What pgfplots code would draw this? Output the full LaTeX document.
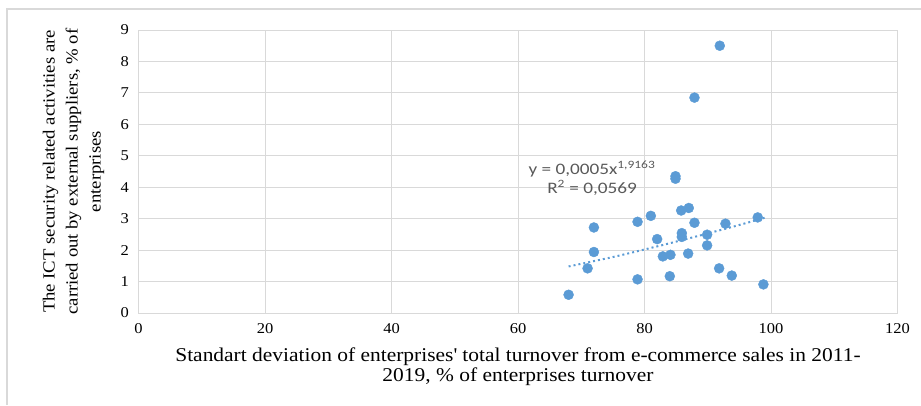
\documentclass[border=0pt]{standalone}
\usepackage{pgfplots}
\pgfplotsset{compat=1.18}
\usepackage{fontspec}
\setmainfont[FakeStretch=1.1]{Liberation Serif}
\newfontfamily\calib[FakeStretch=1.2]{Carlito}
\definecolor{dotblue}{HTML}{5B9BD5}
\definecolor{gridgray}{HTML}{D9D9D9}
\definecolor{eqgray}{HTML}{595959}
\begin{document}
\begin{tikzpicture}
\useasboundingbox (0pt,0pt) rectangle (921pt,405pt);
\draw[gridgray,line width=1.2pt] (7pt,0pt) -- (7pt,396pt) -- (921pt,396pt);
\begin{axis}[
  at={(138.5pt,92pt)}, anchor=south west,
  scale only axis, width=759pt, height=283pt,
  xmin=0, xmax=120, ymin=0, ymax=9,
  xtick={0,20,...,120}, ytick={0,1,...,9},
  grid=major,
  grid style={gridgray, line width=1pt},
  axis line style={gridgray, line width=1pt},
  major tick length=0pt,
  tick label style={font=\fontsize{15}{18}\selectfont},
  xticklabel style={yshift=-7pt},
  yticklabel style={xshift=-6pt},
  /pgf/number format/assume math mode=true,
  xlabel={Standart deviation of enterprises\textquotesingle\ total turnover from e-commerce sales in 2011-\\2019, \% of enterprises\ turnover},
  xlabel style={font=\fontsize{19.5}{20}\selectfont, align=center, at={(axis description cs:0.5,0)}, anchor=north, yshift=-31pt},
  ylabel={The ICT security related activities are\\carried out by external suppliers, \% of\\enterprises},
  ylabel style={font=\fontsize{17}{23}\selectfont, align=center, at={(axis description cs:0,0.5)}, anchor=center, yshift=65pt},
  clip=false,
]
\addplot[only marks, mark=*, mark size=5pt, color=dotblue, mark options={fill=dotblue, draw=dotblue}] coordinates {
(91.9,8.50) (87.9,6.85) (84.9,4.35) (84.9,4.27) (85.8,3.26) (87.0,3.34)
(81.0,3.09) (78.9,2.90) (87.9,2.87) (92.8,2.84) (97.9,3.04) (72.0,2.72)
(82.0,2.35) (85.9,2.54) (85.9,2.42) (89.9,2.49) (89.9,2.15) (72.0,1.94)
(82.9,1.80) (84.1,1.85) (86.9,1.89) (71.0,1.42) (91.8,1.42) (93.8,1.19)
(78.9,1.07) (84.0,1.17) (98.8,0.91) (68.0,0.58)
};
\addplot[color=dotblue, line width=2pt, dash pattern=on 2pt off 3pt, smooth] coordinates {
(68,1.48) (75,1.78) (80,2.02) (85,2.27) (90,2.53) (95,2.80) (99,3.03)
};
\node[font=\calib\fontsize{16}{19}\selectfont, text=eqgray, align=center] at (axis cs:71.7,4.29) {y = 0,0005x\textsuperscript{1,9163}\\R\textsuperscript{2} = 0,0569};
\end{axis}
\end{tikzpicture}
\end{document}
